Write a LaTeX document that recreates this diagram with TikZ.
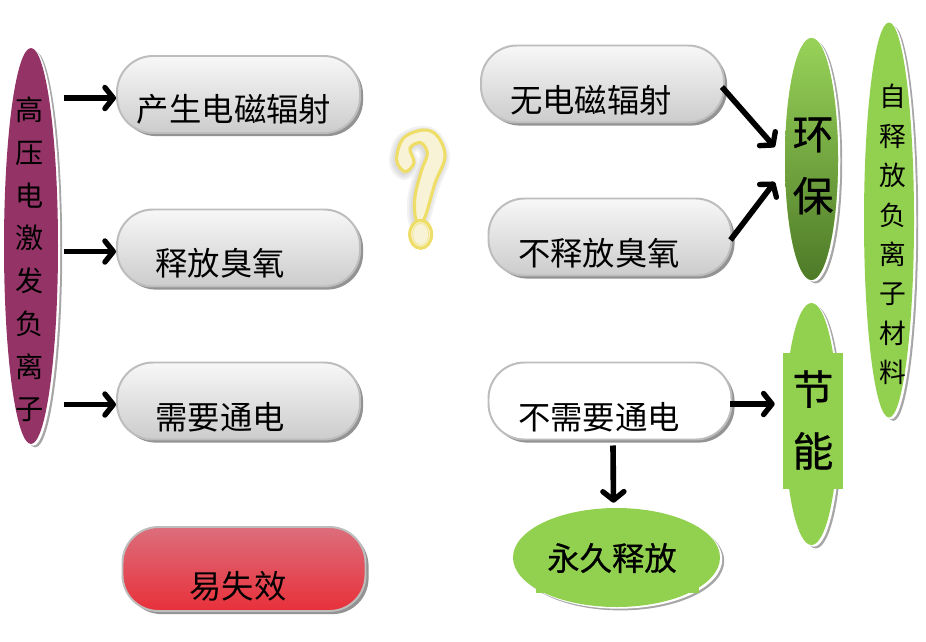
\documentclass[tikz,border=0pt]{standalone}
\usepackage{fontspec}
\usepackage{tikz}
\usetikzlibrary{arrows.meta,calc,shadows,shapes.geometric}
\newfontfamily\cjk{Noto Sans CJK SC}
\newfontfamily\cjkheavy[FakeBold=0.7]{Noto Sans CJK SC}
\definecolor{leaf}{HTML}{92D050}
\definecolor{leafdark}{HTML}{4E7A28}
\definecolor{leafmid}{HTML}{84BF48}
\definecolor{plum}{HTML}{943366}
\definecolor{rim}{HTML}{BDBDBD}
\definecolor{quest}{HTML}{EEDD66}
\definecolor{questin}{HTML}{F8F3D6}
\definecolor{alarmtop}{HTML}{DC6E7C}
\definecolor{alarmmid}{HTML}{DF5A68}
\definecolor{alarmlow}{HTML}{E8303A}
\def\px{0.025cm}

\tikzset{
	backing/.style={
		general shadow={shadow xshift=3pt, shadow yshift=-2.4pt, fill=gray!70, draw=none},
		general shadow={shadow xshift=1.6pt, shadow yshift=-1.2pt, fill=white, draw=none}},
	pill/.style={rectangle, rounded corners=0.9cm, draw=rim, line width=1.4pt, inner sep=0,
		minimum width=243*\px, minimum height=77*\px,
		drop shadow={shadow xshift=2.2pt, shadow yshift=-2.2pt, fill=gray!85, opacity=1}},
	silver/.style={pill, top color=gray!6, bottom color=gray!40},
	blank/.style={pill, fill=white},
	alarm/.style={pill, top color=alarmtop, middle color=alarmmid, bottom color=alarmlow},
	oval/.style={ellipse, inner sep=0, backing, fill=leaf},
	patch/.style={rectangle, inner sep=0, fill=leaf},
	pilltext/.style={inner sep=0, font=\cjk\fontsize{23}{23}\selectfont},
	stacktext/.style={inner sep=0, align=center, font=\cjk\fontsize{20}{30.4}\selectfont},
	bigtext/.style={inner sep=0, align=center, font=\cjkheavy\fontsize{29}{44}\selectfont},
	arrowline/.style={line width=4pt, -{Straight Barb[length=6pt, width=15pt, line width=3.8pt, round]}}
}

\begin{document}
\begin{tikzpicture}[x=0.025cm, y=-0.025cm]
	\useasboundingbox (0,0) rectangle (926,641);

	% ovals
	\node[oval, fill=plum, minimum width=54*\px, minimum height=396*\px] (source) at (31,246) {};
	\node[oval, top color=leaf!95!white, middle color=leafmid, bottom color=leafdark, minimum width=53*\px, minimum height=242*\px] (green) at (811.5,159) {};
	\node[oval, minimum width=50*\px, minimum height=395*\px] (material) at (889,220) {};
	\node[oval, minimum width=53*\px, minimum height=242*\px] (saving) at (811.5,424) {};
	\node[oval, minimum width=207*\px, minimum height=99*\px] (forever) at (616.5,557.5) {};
	\node[patch, minimum width=60*\px, minimum height=136*\px] (savingbox) at (813,421) {};
	\node[patch, minimum width=163*\px, minimum height=66*\px] (foreverbox) at (617.5,560) {};

	% left and right pills
	\foreach \x/\y/\nm in {238.5/94.5/radiate,238.5/248/ozone,238.5/401/power,602.5/84/noradiate,610/237/noozone}
		\node[silver] (\nm) at (\x,\y) {};
	\node[blank] (nopower) at (610,401) {};
	\node[alarm, minimum height=84*\px] (fail) at (244,569) {};

	\foreach \x/\y/\nm/\char in {234/109/radiate/产生电磁辐射,220/263/ozone/释放臭氧,220/417/power/需要通电,238/586/fail/易失效,591/100/noradiate/无电磁辐射,599/253/noozone/不释放臭氧,599/417/nopower/不需要通电}
		\node[pilltext] (\nm text) at (\x,\y) {\char};

	\node[stacktext] (sourcetext) at (30,259.5) {高\\压\\电\\激\\发\\负\\离\\子};
	\node[stacktext, font=\cjk\fontsize{19}{28}\selectfont] (materialtext) at (893,234.5) {自\\释\\放\\负\\离\\子\\材\\料};
	\node[bigtext] (greentext) at (813,166) {环\\保};
	\node[bigtext] (savingtext) at (813,420) {节\\能};
	\node[pilltext, font=\cjkheavy\fontsize{23}{23}\selectfont] (forevertext) at (612,558) {永久释放};

	% arrows
	\foreach \nm in {radiate,ozone,power}
		\draw[arrowline] ([xshift=3.8pt, yshift=-2.5pt]source.east |- \nm.west) -- ([yshift=-2.5pt]\nm.west);
	\draw[arrowline] ($(noradiate.east)+(-3,3)$) -- ($(green.west)+(-10,-12)$);
	\draw[arrowline] ($(noozone.east)+(-2,3)$) -- ($(green.west)+(-10,23)$);
	\draw[arrowline] ($(nopower.east)+(-2,3)$) -- ($(savingbox.west)+(-8,-17)$);
	\draw[arrowline] ($(nopower.south)+(3,5)$) -- ($(forever.north)+(-3,-5)$);

	% question mark
	\begin{scope}[shift={(380,120)}, scale=0.3333]
		\def\questpath{plot[smooth cycle, tension=0.6] coordinates {(130,30) (172,48) (195,110) (165,190) (132,298) (108,298) (105,230) (125,150) (142,100) (122,68) (90,85) (102,128) (75,155) (50,120) (70,55)}}
		\foreach \w in {9,6,3}
			\draw[gray, opacity=0.1, line width=\w pt, shift={(-4,6)}] \questpath;
		\draw[draw=quest, fill=questin, line width=2.2pt] \questpath;
		\draw[draw=quest, fill=questin, line width=2.2pt] (122,343) ellipse (33 and 42);
		\draw[quest!60!questin, line width=0.6pt] (122,343) ellipse (24 and 33);
	\end{scope}
\end{tikzpicture}
\end{document}
